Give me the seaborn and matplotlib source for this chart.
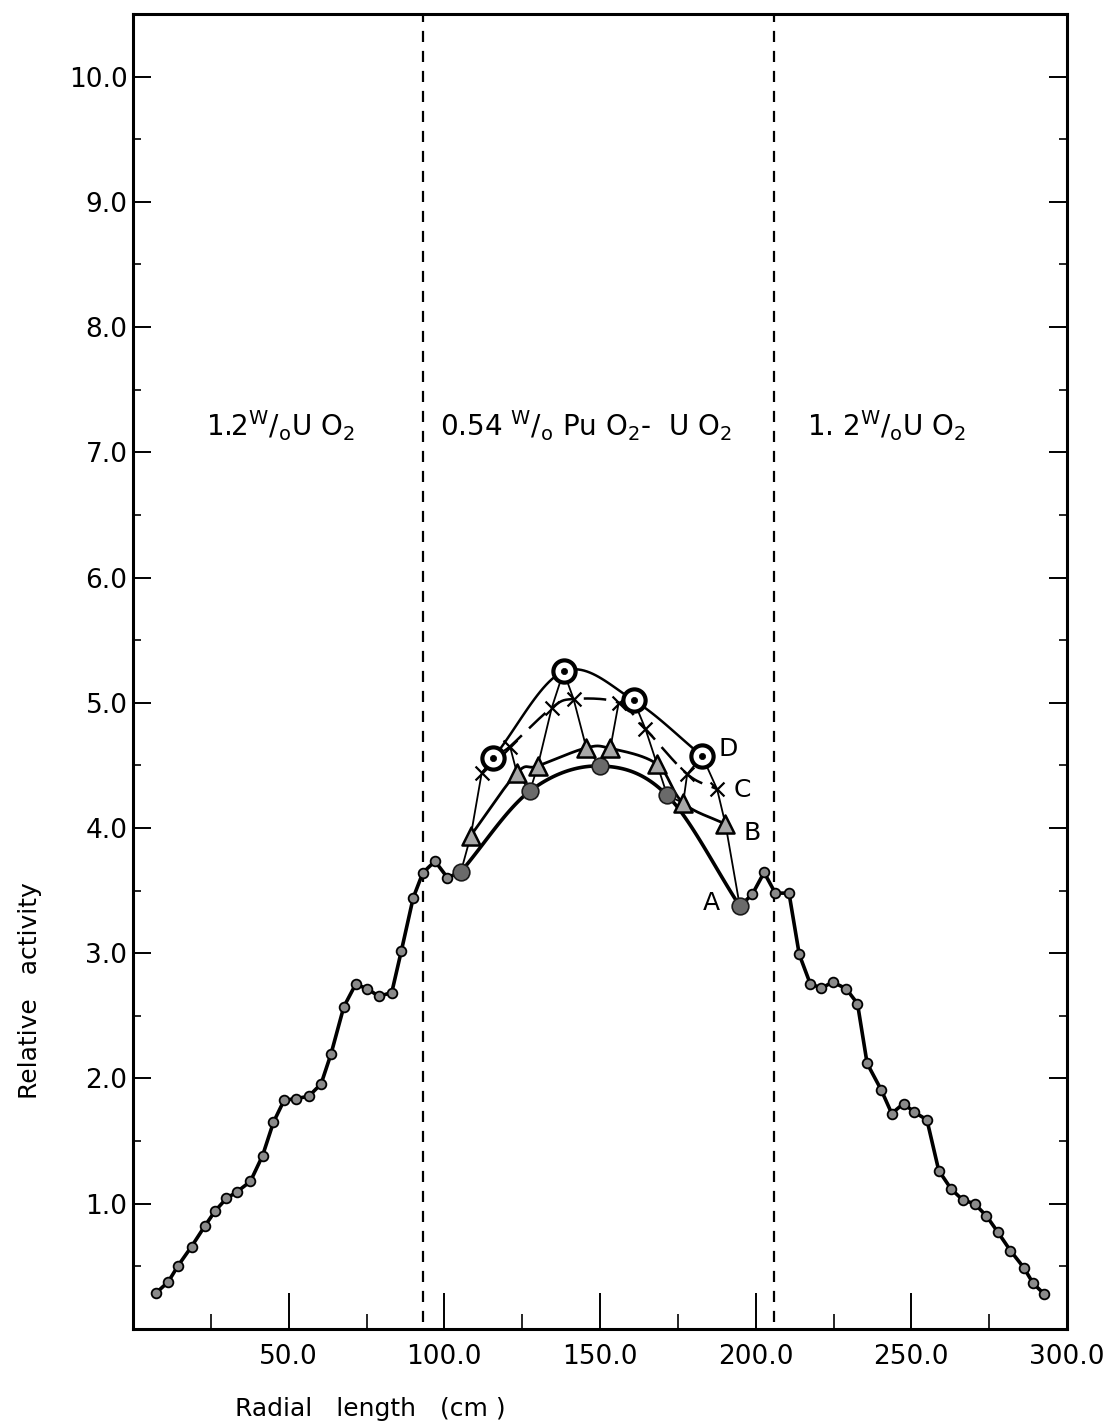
import numpy as np
import pandas as pd
import matplotlib
matplotlib.use("Agg")
import matplotlib.pyplot as plt
import seaborn as sns
from matplotlib.ticker import FixedLocator, FormatStrFormatter

# ---------------- data ----------------
left_x = [7.3, 11.3, 14.5, 18.8, 23.1, 26.4, 30.0, 33.4, 37.7, 41.6, 45.1, 48.5, 52.4,
          56.4, 60.4, 63.6, 67.7, 71.5, 75.1, 79.0, 83.1, 86.2, 90.0, 93.1, 97.0, 101.0, 105.3]
left_y = [0.285, 0.376, 0.506, 0.658, 0.823, 0.943, 1.042, 1.095, 1.178, 1.383, 1.65, 1.825, 1.84,
          1.857, 1.956, 2.196, 2.572, 2.752, 2.718, 2.656, 2.686, 3.02, 3.443, 3.643, 3.735, 3.603, 3.65]

right_x = [194.9, 198.9, 202.7, 206.3, 210.7, 214.0, 217.5, 221.1, 224.7, 229.0, 232.7, 235.8,
           240.3, 243.7, 247.5, 251.0, 255.0, 258.8, 262.8, 266.5, 270.3, 274.1, 277.8, 281.8,
           286.1, 289.1, 292.6]
right_y = [3.376, 3.47, 3.645, 3.48, 3.48, 2.99, 2.758, 2.72, 2.77, 2.718, 2.598, 2.12,
           1.91, 1.72, 1.80, 1.73, 1.67, 1.265, 1.117, 1.03, 1.0, 0.903, 0.773, 0.626,
           0.49, 0.365, 0.28]

A_x = [105.3, 127.5, 150.1, 171.6, 194.9]
A_y = [3.65, 4.295, 4.495, 4.26, 3.376]
B_x = [108.5, 123.3, 130.0, 145.6, 153.3, 168.3, 176.7, 190.3]
B_y = [3.94, 4.44, 4.495, 4.64, 4.636, 4.51, 4.20, 4.03]
C_x = [112.0, 121.1, 134.5, 141.5, 156.0, 164.6, 178.0, 187.6]
C_y = [4.44, 4.65, 4.96, 5.03, 5.00, 4.79, 4.43, 4.31]
D_x = [115.7, 138.3, 160.8, 182.8]
D_y = [4.56, 5.25, 5.02, 4.575]

region_bounds = [93.1, 205.8]
region_labels = [r"1.2$\mathregular{^{W}/_{o}}$U O$_2$",
                 r"0.54 $\mathregular{^{W}/_{o}}$ Pu O$_2$-  U O$_2$",
                 r"1. 2$\mathregular{^{W}/_{o}}$U O$_2$"]
region_label_x = [47.3, 145.6, 241.9]
region_label_y = [7.21, 7.21, 7.21]

curve_names = ["A", "B", "C", "D"]
curve_label_x = [185.8, 198.7, 195.8, 191.3]
curve_label_y = [3.40, 3.96, 4.30, 4.63]

x_major = [50, 100, 150, 200, 250, 300]
x_minor = [25, 75, 125, 175, 225, 275]
y_major = [1, 2, 3, 4, 5, 6, 7, 8, 9, 10]
y_minor = [0.5, 1.5, 2.5, 3.5, 4.5, 5.5, 6.5, 7.5, 8.5, 9.5, 10.5]


def smooth(xs, ys, n=24):
    """Catmull-Rom curve through the given points (drawing style only)."""
    pts = np.column_stack([xs, ys]).astype(float)
    P = np.vstack([2 * pts[0] - pts[1], pts, 2 * pts[-1] - pts[-2]])
    out = []
    t = np.linspace(0, 1, n, endpoint=False)[:, None]
    for i in range(1, len(P) - 2):
        p0, p1, p2, p3 = P[i - 1], P[i], P[i + 1], P[i + 2]
        seg = 0.5 * ((2 * p1) + (-p0 + p2) * t + (2 * p0 - 5 * p1 + 4 * p2 - p3) * t ** 2
                     + (-p0 + 3 * p1 - 3 * p2 + p3) * t ** 3)
        out.append(seg)
    out.append(pts[-1:])
    s = np.vstack(out)
    return s[:, 0], s[:, 1]


sns.set_theme(style="white")
plt.rcParams["font.family"] = ["DejaVu Sans"]
plt.rcParams["mathtext.fontset"] = "dejavusans"

fig = plt.figure(figsize=(11.16, 14.23), dpi=100)
ax = fig.add_axes([0.1192, 0.0661, 0.8369, 0.9241])

# region boundaries
for b in region_bounds:
    ax.axvline(b, ymin=0.005, ymax=1, color="black", lw=1.6, ls=(0, (5, 4)), zorder=1)

# outer measured profile
for xs, ys in [(left_x, left_y), (right_x, right_y)]:
    df = pd.DataFrame({"x": xs, "y": ys})
    sns.lineplot(data=df, x="x", y="y", ax=ax, sort=False, color="black", lw=2.6,
                 marker="o", markersize=7, markerfacecolor="#8a8a8a",
                 markeredgecolor="black", markeredgewidth=1.3, zorder=3)

# zig-zag connecting all central points in radial order
allc = pd.DataFrame({"x": A_x + B_x + C_x + D_x, "y": A_y + B_y + C_y + D_y}).sort_values("x")
sns.lineplot(data=allc, x="x", y="y", ax=ax, sort=True, color="black", lw=1.3, zorder=2)

# smooth curves for each series
styles = {"A": dict(lw=2.6, ls="-"), "B": dict(lw=2.0, ls="-"),
          "C": dict(lw=1.8, ls=(0, (9, 4))), "D": dict(lw=1.8, ls="-")}
for name, xs, ys in [("A", A_x, A_y), ("B", B_x, B_y), ("C", C_x, C_y), ("D", D_x, D_y)]:
    sx, sy = smooth(xs, ys)
    sns.lineplot(x=sx, y=sy, ax=ax, sort=False, color="black", estimator=None, zorder=2,
                 **styles[name])

# markers
sns.scatterplot(x=A_x, y=A_y, ax=ax, marker="o", s=12 ** 2, color="#6a6a6a",
                edgecolor="#1a1a1a", linewidth=1.2, zorder=5)
sns.scatterplot(x=B_x, y=B_y, ax=ax, marker="^", s=13 ** 2, color="#a8a8a8",
                edgecolor="black", linewidth=1.8, zorder=5)
sns.scatterplot(x=C_x, y=C_y, ax=ax, marker="x", s=10 ** 2, color="black",
                linewidth=1.6, zorder=5)
sns.scatterplot(x=D_x, y=D_y, ax=ax, marker="o", s=16 ** 2, color="white",
                edgecolor="black", linewidth=3.0, zorder=5)
sns.scatterplot(x=D_x, y=D_y, ax=ax, marker="o", s=4.5 ** 2, color="black",
                edgecolor="black", linewidth=0.5, zorder=6)

# curve labels
for name, lx, ly in zip(curve_names, curve_label_x, curve_label_y):
    ax.text(lx, ly, name, fontsize=18, ha="center", va="center", color="black")

# region labels
for lab, lx, ly in zip(region_labels, region_label_x, region_label_y):
    ax.text(lx, ly, lab, fontsize=20, ha="center", va="center", color="black")

# axes
ax.set_xlim(0, 300)
ax.set_ylim(0, 10.5)
ax.xaxis.set_major_locator(FixedLocator(x_major))
ax.xaxis.set_minor_locator(FixedLocator(x_minor))
ax.yaxis.set_major_locator(FixedLocator(y_major))
ax.yaxis.set_minor_locator(FixedLocator(y_minor))
ax.xaxis.set_major_formatter(FormatStrFormatter("%.1f"))
ax.yaxis.set_major_formatter(FormatStrFormatter("%.1f"))

for sp in ax.spines.values():
    sp.set_visible(True)
    sp.set_linewidth(2.2)
    sp.set_color("black")

ax.tick_params(axis="x", which="major", direction="in", length=26, width=1.4,
               labelsize=19, pad=11, bottom=True, top=False, colors="black")
ax.tick_params(axis="x", which="minor", direction="in", length=11, width=1.4,
               bottom=True, top=False)
ax.tick_params(axis="y", which="major", direction="in", length=13, width=1.4,
               labelsize=19, pad=4, left=True, right=True, colors="black")
ax.tick_params(axis="y", which="minor", direction="in", length=6, width=1.4,
               left=True, right=True)

ax.set_xlabel("Radial   length   (cm )", fontsize=18, color="black")
ax.set_ylabel("Relative   activity", fontsize=18, color="black")
ax.xaxis.set_label_coords(0.254, -0.052)
ax.yaxis.set_label_coords(-0.097, 0.257)
ax.grid(False)

fig.savefig("out.png", dpi=100, facecolor="white")
